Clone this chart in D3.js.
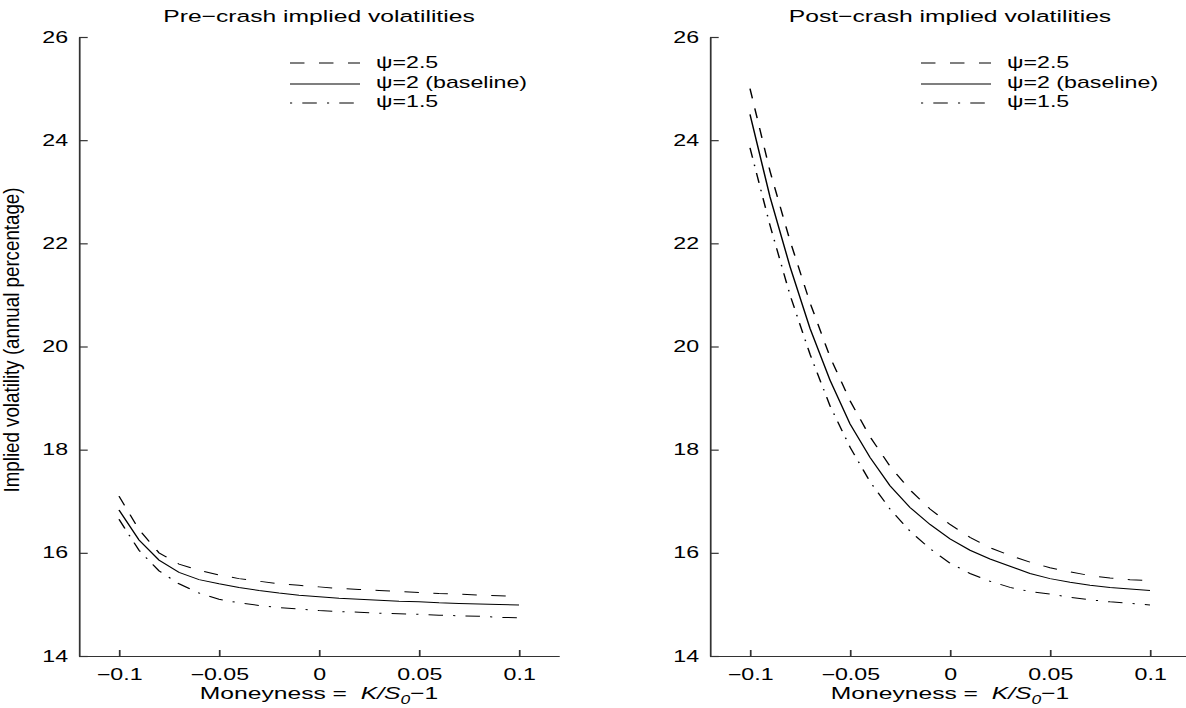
<!DOCTYPE html>
<html><head><meta charset="utf-8">
<script src="https://cdn.jsdelivr.net/npm/d3@7"></script>
<style>
body{margin:0;background:#fff}
svg{display:block}
text{font-family:"Liberation Sans",Arial,Helvetica,sans-serif;fill:#000}
</style>
</head><body>
<svg id="chart" width="1186" height="708"></svg>
<script>
// ---- data ----
const moneyness = [-0.1,-0.09,-0.08,-0.07,-0.06,-0.05,-0.04,-0.03,-0.02,-0.01,0,0.01,0.02,0.03,0.04,0.05,0.06,0.07,0.08,0.09,0.1];
const prePsi25 = [17.10,16.45,16.00,15.78,15.66,15.57,15.50,15.45,15.40,15.37,15.34,15.31,15.29,15.27,15.25,15.23,15.21,15.20,15.18,15.17,15.15];
const prePsi20 = [16.83,16.25,15.86,15.62,15.48,15.40,15.33,15.27,15.22,15.18,15.15,15.12,15.10,15.08,15.06,15.05,15.03,15.02,15.01,15.00,14.99];
const prePsi15 = [16.65,16.05,15.65,15.40,15.22,15.10,15.03,14.98,14.94,14.91,14.88,14.86,14.85,14.83,14.82,14.81,14.79,14.78,14.77,14.75,14.74];
const postPsi25 = [25.00,23.40,22.05,20.85,19.80,18.95,18.25,17.68,17.22,16.85,16.55,16.30,16.10,15.95,15.82,15.71,15.63,15.56,15.51,15.48,15.46];
const postPsi20 = [24.50,22.90,21.55,20.35,19.35,18.50,17.85,17.30,16.88,16.55,16.27,16.05,15.88,15.74,15.60,15.50,15.43,15.37,15.33,15.30,15.27];
const postPsi15 = [23.85,22.35,21.00,19.85,18.85,18.05,17.38,16.85,16.42,16.08,15.80,15.60,15.45,15.33,15.25,15.20,15.14,15.09,15.05,15.02,14.99];
const legendLabels = ["ψ=2.5","ψ=2 (baseline)","ψ=1.5"];
const titles = ["Pre−crash implied volatilities","Post−crash implied volatilities"];
const yTicks = [14,16,18,20,22,24,26];
const xTicks = [-0.1,-0.05,0,0.05,0.1];
const xTickLabels = ["−0.1","−0.05","0","0.05","0.1"];
const yLabel = "Implied volatility (annual percentage)";

// ---- layout ----
const SX = 1.45;               // horizontal stretch of the original figure
const plotW = 480 / SX;
const yTop = 37, yBot = 656;
const dashes = ["10,10", null, "10,7,1.5,7"];
const legendOffsets = [0, 0, 17];

const svg = d3.select("#chart");
const root = svg.append("g").attr("transform", `scale(${SX},1)`);

const panels = [
  {title: titles[0], x0: 79 / SX, series: [prePsi25, prePsi20, prePsi15]},
  {title: titles[1], x0: 710 / SX, series: [postPsi25, postPsi20, postPsi15]}
];

const y = d3.scaleLinear().domain([14, 26]).range([yBot, yTop]);

panels.forEach((p, pi) => {
  const x = d3.scaleLinear().domain([-0.12, 0.12]).range([p.x0, p.x0 + plotW]);
  const g = root.append("g");

  // axes
  const ax = g.append("g").attr("transform", `translate(0,${yBot})`)
    .call(d3.axisBottom(x).tickValues(xTicks).tickFormat((d, i) => xTickLabels[i])
      .tickSizeInner(-6).tickSizeOuter(0).tickPadding(12.6));
  const ay = g.append("g").attr("transform", `translate(${p.x0},0)`)
    .call(d3.axisLeft(y).tickValues(yTicks).tickFormat(d3.format("d"))
      .tickSizeInner(-6).tickSizeOuter(0).tickPadding(7.5));
  [ax, ay].forEach(a => {
    a.selectAll("path.domain").attr("stroke", "#333").attr("stroke-width", 1.2);
    a.selectAll(".tick line").attr("stroke", "#333").attr("stroke-width", 1.2);
    a.selectAll(".tick text").attr("font-size", 16).attr("fill", "#000")
      .style("font-family", '"Liberation Sans",Arial,sans-serif');
  });

  // curves
  const line = d3.line().x((d, i) => x(moneyness[i])).y(d => y(d));
  p.series.forEach((s, si) => {
    g.append("path").datum(s).attr("d", line)
      .attr("fill", "none").attr("stroke", "#000").attr("stroke-width", 1)
      .attr("stroke-dasharray", dashes[si]);
  });

  // title
  g.append("text").attr("x", p.x0 + plotW / 2).attr("y", 22)
    .attr("text-anchor", "middle").attr("font-size", 17).text(p.title);

  // legend
  const lx0 = p.x0 + 145.5, lx1 = p.x0 + 193.8, tx = p.x0 + 204.8;
  const lineY = [63, 84, 103], textY = [68.5, 88.5, 107.5];
  legendLabels.forEach((lab, li) => {
    g.append("line").attr("x1", lx0).attr("x2", lx1).attr("y1", lineY[li]).attr("y2", lineY[li])
      .attr("stroke", "#000").attr("stroke-width", 1).attr("stroke-dasharray", dashes[li])
      .attr("stroke-dashoffset", legendOffsets[li]);
    g.append("text").attr("x", tx).attr("y", textY[li]).attr("font-size", 16).text(lab);
  });

  // x label
  const xl = g.append("text").attr("x", p.x0 + plotW / 2).attr("y", 699)
    .attr("text-anchor", "middle").attr("font-size", 17);
  xl.append("tspan").text("Moneyness =  ").attr("xml:space", "preserve");
  xl.append("tspan").attr("font-style", "italic").text("K/S");
  xl.append("tspan").attr("font-style", "italic").attr("font-size", 12).attr("dy", 5).text("0");
  xl.append("tspan").attr("dy", -5).text("−1");

  if (pi === 0) {
    root.append("text").attr("transform", `translate(${19 / SX},340) rotate(-90)`)
      .attr("text-anchor", "middle").attr("font-size", 15)
      .attr("textLength", 305).attr("lengthAdjust", "spacingAndGlyphs")
      .text(yLabel);
  }
});
</script>
</body></html>
